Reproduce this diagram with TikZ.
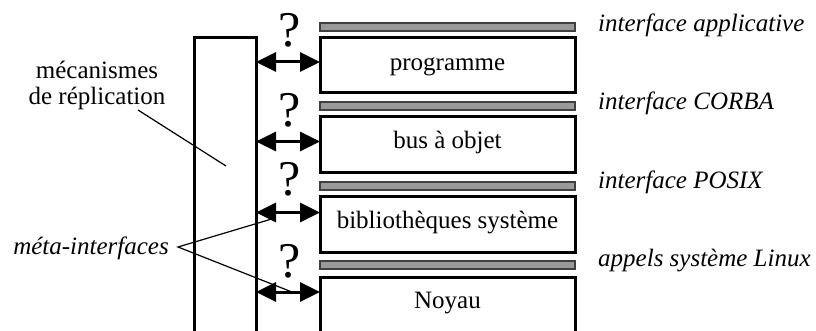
\documentclass[tikz,border=0pt]{standalone}
\usepackage{fontspec}
\setmainfont{Liberation Serif}
\usetikzlibrary{arrows.meta}
\definecolor{bargray}{HTML}{999999}
\definecolor{barline}{HTML}{404040}
\begin{document}
\begin{tikzpicture}[x=1pt,y=-1pt,
  layerbox/.style={draw=black,line width=3pt},
  gbar/.style={fill=bargray,draw=barline,line width=1.3pt},
  txt/.style={inner sep=0pt,font=\fontsize{25}{26}\selectfont},
  itxt/.style={inner sep=0pt,font=\fontsize{25}{26}\selectfont\itshape},
  qmark/.style={inner sep=0pt,font=\fontsize{50}{52}\selectfont},
  darrow/.style={line width=3pt,{Triangle[length=20pt,width=19pt]}-{Triangle[length=20pt,width=19pt]}},
  leader/.style={line width=1.2pt}]
\useasboundingbox (0,0) rectangle (816,331);
% tall box (open at bottom)
\draw[layerbox] (194,335) -- (194,38) -- (256,38) -- (256,335);
% gray bars
\draw[gbar] (320,23) rectangle (575,31);
\draw[gbar] (320,102) rectangle (575,110);
\draw[gbar] (320,182) rectangle (575,190);
\draw[gbar] (320,261) rectangle (575,269);
% layer boxes
\draw[layerbox] (320,38) rectangle (575,93);
\draw[layerbox] (320,117) rectangle (575,173);
\draw[layerbox] (320,197) rectangle (575,252);
\draw[layerbox] (320,335) -- (320,277) -- (575,277) -- (575,335);
\node[txt,anchor=base] (prog) at (447.5,71) {programme};
\node[txt,anchor=base] (bus) at (447.5,149) {bus à objet};
\node[txt,anchor=base] (bib) at (447.5,228) {bibliothèques système};
\node[txt,anchor=base] (noy) at (447.5,308) {Noyau};
% arrow end points
\coordinate (a1l) at (256,62);   \coordinate (a1r) at (320,62);
\coordinate (a2l) at (256,141.5);\coordinate (a2r) at (320,141.5);
\coordinate (a3l) at (256,212.5);\coordinate (a3r) at (320,212.5);
\coordinate (a4l) at (256,292);  \coordinate (a4r) at (320,292);
\draw[darrow] (a1l) -- (a1r);
\draw[darrow] (a2l) -- (a2r);
\draw[darrow] (a3l) -- (a3r);
\draw[darrow] (a4l) -- (a4r);
% question marks
\node[qmark,anchor=base] (q1) at (290,47) {?};
\node[qmark,anchor=base] (q2) at (290,127) {?};
\node[qmark,anchor=base] (q3) at (290,196) {?};
\node[qmark,anchor=base] (q4) at (290,277) {?};
% right labels
\node[itxt,anchor=base west] (l1) at (598,32) {interface applicative};
\node[itxt,anchor=base west] (l2) at (598,110) {interface CORBA};
\node[itxt,anchor=base west] (l3) at (598,189) {interface POSIX};
\node[itxt,anchor=base west] (l4) at (598,266) {appels système Linux};
% left labels
\node[txt,align=center,anchor=center] (mec) at (97,85) {mécanismes\\de réplication};
\coordinate (mecs) at (138,110);
\coordinate (mece) at (226,166);
\draw[leader] (mecs) -- (mece);
\node[itxt,anchor=base east] (meta) at (169,254) {méta-interfaces};
\coordinate (metap) at (178,247);
\coordinate (m1) at (275,218);
\coordinate (m2) at (292,292);
\draw[leader] (m1) -- (metap) -- (m2);
\end{tikzpicture}
\end{document}
